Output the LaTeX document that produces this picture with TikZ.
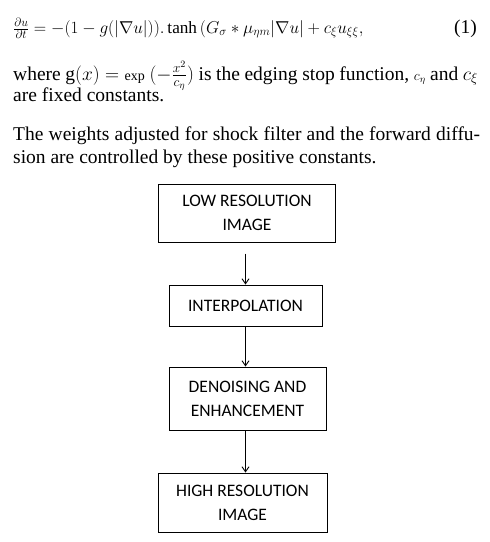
\RequirePackage{fix-cm}
\documentclass[tikz,border=0pt]{standalone}
\usepackage{fontspec}
\setmainfont{Liberation Serif}
\newfontfamily\boxfont{Carlito}
\usetikzlibrary{arrows.meta,positioning}

\begin{document}
\begin{tikzpicture}[x=1pt,y=-1pt,node distance=92.5pt]
    % Style Definitions
    \tikzstyle{stage} = [rectangle, draw=black, line width=1pt, align=center, inner sep=0pt, font=\boxfont\fontsize{17.5}{24}\selectfont]
    \tikzstyle{flow} = [-{Straight Barb[length=5pt,width=7pt]}, line width=0.9pt]
    \tikzstyle{para} = [anchor=base west, inner sep=0pt, font=\fontsize{19.5}{23}\selectfont]

    \useasboundingbox (0,0) rectangle (490,542);

    % Text
    \node (eq) [para, font=\fontsize{17.2}{20}\selectfont] at (13,33) {$\frac{\partial u}{\partial t} = -\bigl(1 - g(|\nabla u|)\bigr).\tanh\,(G_\sigma * \mu_{\eta m}|\nabla u| + c_\xi u_{\xi\xi},$};
    \node (eqno) [para, anchor=base east] at (477,33) {(1)};
    \node (where) [para] at (13,80) {\makebox[465pt][s]{where $\mathrm{g}(x) = \mbox{\fontsize{14}{16}\selectfont exp}\ (-\frac{x^2}{c_\eta})$ is the edging stop function, {\fontsize{14}{16}\selectfont$c_\eta$} and $c_\xi$}};
    \node (fixed) [para] at (13,101) {are fixed constants.};
    \node (weights) [para] at (13,140) {\makebox[467pt][s]{The weights adjusted for shock filter and the forward diffu-}};
    \node (sion) [para] at (13,163) {sion are controlled by these positive constants.};

    % Nodes
    \node (low) [stage, minimum width=177pt, minimum height=58pt] at (247,213) {LOW RESOLUTION\\IMAGE};
    \node (interp) [stage, below of=low, xshift=-1.5pt, minimum width=153pt, minimum height=41pt] {INTERPOLATION};
    \node (denoise) [stage, below of=interp, yshift=-0.5pt, xshift=2pt, minimum width=157pt, minimum height=63pt] {DENOISING AND\\ENHANCEMENT};
    \node (high) [stage, below of=denoise, yshift=-11.5pt, xshift=-5pt, minimum width=169pt, minimum height=59pt] {HIGH RESOLUTION\\IMAGE};

    % Arrows
    \coordinate (lowout) at ([shift={(-1.5,11)}]low.south);
    \draw[flow] (lowout) -- (lowout |- interp.north);
    \draw[flow] (interp.south) -- (interp.south |- denoise.north);
    \draw[flow] (interp.south |- denoise.south) -- (interp.south |- high.north);

\end{tikzpicture}
\end{document}
